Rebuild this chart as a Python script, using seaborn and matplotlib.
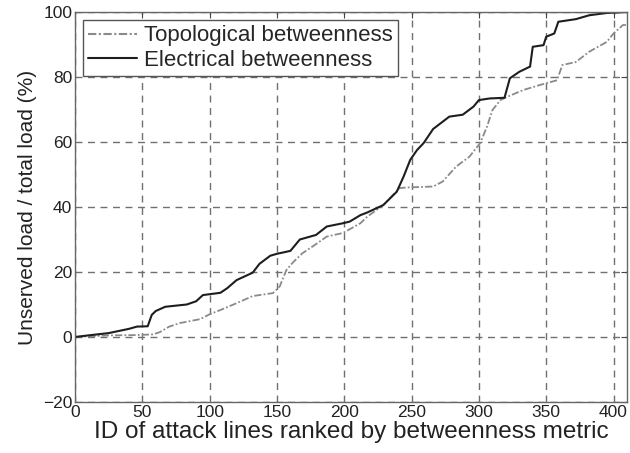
import pandas as pd
import matplotlib
matplotlib.use("Agg")
import matplotlib.pyplot as plt
import seaborn as sns

# values
x_topo = [0, 26, 46, 58, 63, 70, 78, 93, 100, 108, 120, 132, 147, 152, 157, 162,
          169, 177, 187, 199, 212, 217, 229, 241, 246, 266, 273, 283, 293, 301,
          306, 310, 316, 321, 333, 345, 358, 362, 372, 382, 395, 400, 407, 410]
y_topo = [0, 0.5, 0.6, 0.8, 1.5, 3.2, 4.3, 5.5, 7.0, 8.3, 10.4, 12.6, 13.5, 15.5,
          20.6, 23, 25.8, 28, 30.9, 32, 35, 37, 40.6, 45.8, 46, 46.3, 47.8, 52.4,
          55.5, 59.7, 64.7, 69.8, 72.9, 73.9, 76, 77.5, 79, 83.7, 84.6, 87.8,
          90.8, 93.4, 96, 96]

x_elec = [0, 10, 25, 40, 46, 54, 57, 60, 67, 83, 90, 95, 108, 113, 120, 132, 137,
          145, 150, 160, 167, 179, 187, 199, 204, 212, 217, 229, 239, 244, 249,
          254, 259, 266, 278, 288, 296, 300, 308, 319, 323, 330, 338, 340, 348,
          350, 356, 359, 372, 382, 395, 410]
y_elec = [0, 0.5, 1.2, 2.5, 3.2, 3.3, 6.8, 8.0, 9.3, 10, 11, 12.9, 13.6, 15, 17.5,
          19.8, 22.5, 25, 25.6, 26.5, 30, 31.4, 34, 35, 35.5, 37.5, 38.3, 40.6,
          44.7, 49.3, 54.5, 57.5, 59.7, 64, 67.8, 68.4, 70.9, 72.9, 73.4, 73.6,
          79.6, 81.6, 83.2, 89.3, 89.8, 92.4, 93.4, 97, 97.8, 99, 99.7, 100]

series_names = ["Topological betweenness", "Electrical betweenness"]
x_ticks = [0, 50, 100, 150, 200, 250, 300, 350, 400]
y_ticks = [-20, 0, 20, 40, 60, 80, 100]

df = pd.concat([
    pd.DataFrame({"x": x_topo, "y": y_topo, "series": series_names[0]}),
    pd.DataFrame({"x": x_elec, "y": y_elec, "series": series_names[1]}),
])

sns.set_theme(style="white")
plt.rcParams["font.family"] = ["Liberation Sans", "DejaVu Sans"]

fig = plt.figure(figsize=(6.3, 4.53), dpi=100)
ax = fig.add_axes([75 / 630, 1 - 402 / 453, (627 - 75) / 630, (402 - 12) / 453])

sns.lineplot(
    data=df, x="x", y="y", hue="series", style="series",
    hue_order=series_names, style_order=series_names,
    palette={series_names[0]: "#8a8a8a", series_names[1]: "#1e1e1e"},
    dashes={series_names[0]: (4, 1.2, 1, 1.2), series_names[1]: ""},
    estimator=None, sort=False, ax=ax)

for line, lw in zip(ax.get_lines(), [1.3, 1.5]):
    line.set_linewidth(lw)

ax.set_xlim(0, 410)
ax.set_ylim(-20, 100)
ax.set_xticks(x_ticks)
ax.set_yticks(y_ticks)
ax.grid(True, color="#707070", linestyle=(0, (5, 4)), linewidth=1.0)
ax.tick_params(direction="in", top=True, right=True, length=4, width=0.8,
               color="#444444", labelsize=12.5, pad=2, labelcolor="#222222")
for spine in ax.spines.values():
    spine.set_color("#666666")
    spine.set_linewidth(1.0)

ax.set_xlabel("ID of attack lines ranked by betweenness metric", fontsize=17.5,
              color="#222222", labelpad=1)
ax.set_ylabel("Unserved load / total load (%)", fontsize=15, color="#222222",
              labelpad=4)

leg = ax.legend(loc="upper left", fontsize=16, frameon=True, fancybox=False,
                handlelength=2.2, handletextpad=0.3, borderpad=0.25,
                labelspacing=0.15, borderaxespad=0.35, framealpha=1)
leg.get_frame().set_edgecolor("#555555")
leg.get_frame().set_linewidth(1.0)

fig.savefig("out.png", dpi=100)
